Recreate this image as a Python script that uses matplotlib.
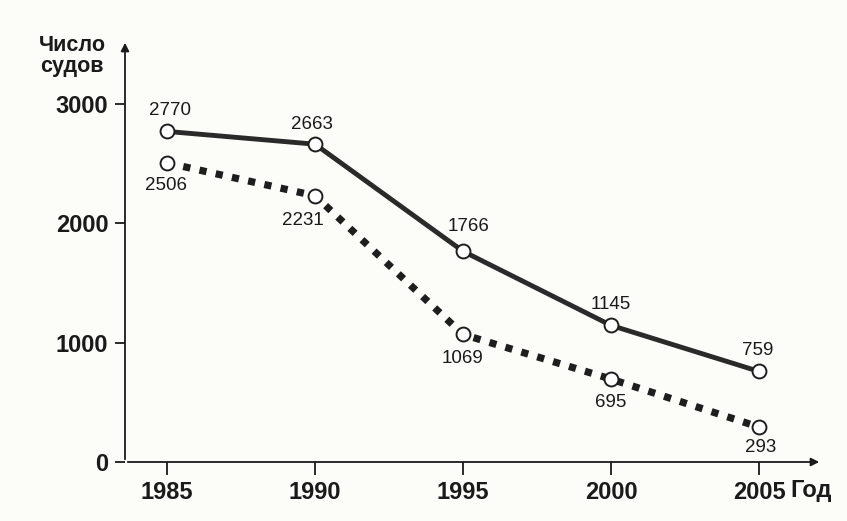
import matplotlib.pyplot as plt

plt.rcParams['font.family'] = ['Liberation Sans', 'DejaVu Sans']

years = [1985, 1990, 1995, 2000, 2005]
series_top = [2770, 2663, 1766, 1145, 759]
series_bottom = [2506, 2231, 1069, 695, 293]
y_ticks = [0, 1000, 2000, 3000]

# label offsets in points (dx, dy)
top_offsets = [(2, 15), (-2, 14), (4, 18), (0, 15), (-1, 15)]
bottom_offsets = [(-1, -16), (-9, -18), (0, -17), (0, -17), (1, -15)]

fig = plt.figure(figsize=(8.47, 5.21), dpi=100)
fig.patch.set_facecolor('#fcfcf8')
ax = fig.add_axes([125 / 847, 59 / 521, 697 / 847, 422 / 521])
ax.set_facecolor('none')

ax.plot(years, series_bottom, color='#1e1e1e', lw=5.2, linestyle=(0, (1, 1.3)),
        dash_capstyle='butt', zorder=2)
ax.plot(years, series_bottom, 'o', ms=10, mfc='white', mec='#1e1e1e', mew=1.4, zorder=3)
ax.plot(years, series_top, color='#2a2a2a', lw=3.5, zorder=2)
ax.plot(years, series_top, 'o', ms=10, mfc='white', mec='#1e1e1e', mew=1.4, zorder=3)

for x, y, (dx, dy) in zip(years, series_top, top_offsets):
    ax.annotate(str(y), (x, y), xytext=(dx, dy), textcoords='offset points',
                ha='center', va='center', fontsize=13.5, color='#1a1a1a')
for x, y, (dx, dy) in zip(years, series_bottom, bottom_offsets):
    ax.annotate(str(y), (x, y), xytext=(dx, dy), textcoords='offset points',
                ha='center', va='center', fontsize=13.5, color='#1a1a1a')

ax.set_xlim(1983.58, 2007.13)
ax.set_ylim(0, 3536)
for s in ax.spines.values():
    s.set_visible(False)

# axes with arrows
ax.annotate('', xy=(1, 0), xytext=(0, 0), xycoords='axes fraction',
            arrowprops=dict(arrowstyle='-|>', color='#1a1a1a', lw=1.3, mutation_scale=12))
ax.annotate('', xy=(0, 1), xytext=(0, 0), xycoords='axes fraction',
            arrowprops=dict(arrowstyle='-|>', color='#1a1a1a', lw=1.3, mutation_scale=12))

ax.set_xticks(years)
ax.set_xticklabels([str(y) for y in years], fontsize=17, fontweight='bold')
ax.set_yticks(y_ticks)
ax.set_yticklabels([str(v) for v in y_ticks], fontsize=17, fontweight='bold')
ax.tick_params(axis='x', direction='out', length=9, width=1.3, pad=5, colors='#1a1a1a')
ax.tick_params(axis='y', direction='out', length=7, width=1.3, pad=5, colors='#1a1a1a')

fig.text(72 / 847, 1 - 56 / 521, 'Число\nсудов', ha='center', va='center',
         fontsize=15.5, fontweight='bold', linespacing=0.95, color='#1a1a1a')
fig.text(790 / 847, 1 - 490 / 521, 'Год', ha='left', va='center',
         fontsize=17, fontweight='bold', color='#1a1a1a')

fig.savefig('out.png', dpi=100, facecolor=fig.get_facecolor())
